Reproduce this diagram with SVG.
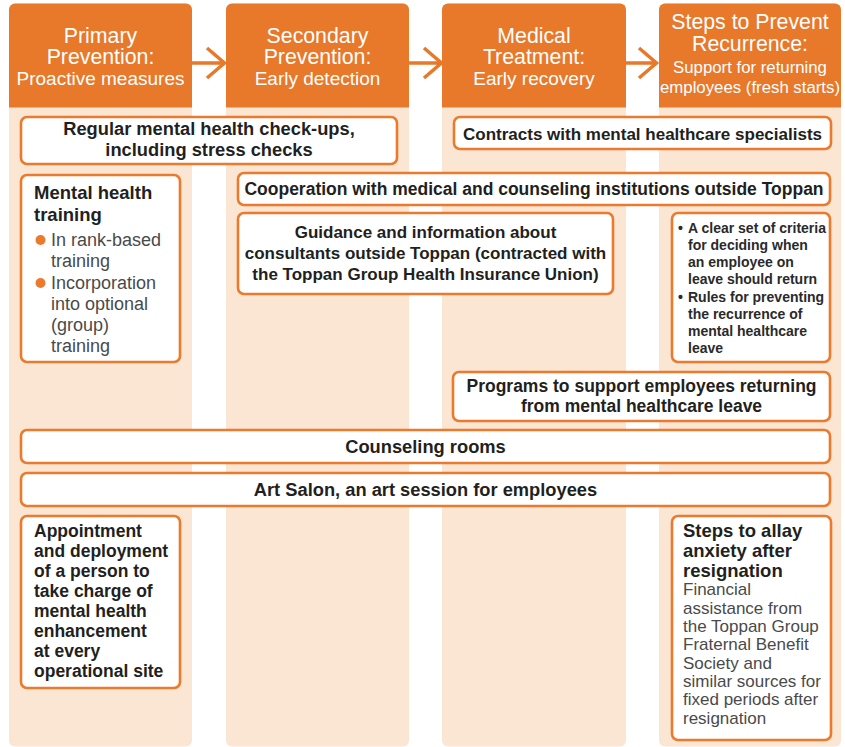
<svg xmlns="http://www.w3.org/2000/svg" width="845" height="747" viewBox="0 0 845 747">
<style>
.col{fill:#FBE5D3}
.hdr{fill:#E8782A}
.ht{fill:#fff;font-family:"Liberation Sans",Arial,sans-serif;text-anchor:middle}
.h1{font-size:21.3px}
.h2{font-size:19px}
.h3{font-size:16.8px}
.box{fill:#fff;stroke:#EC7A2D;stroke-width:2.6}
.bt{fill:#231F20;font-family:"Liberation Sans",Arial,sans-serif;font-weight:bold;font-size:17px}
.c{text-anchor:middle}
.tt{font-size:18.5px}
.big{font-size:18.3px}
.mid{font-size:17.5px}
.rt{fill:#4A4A4A;font-family:"Liberation Sans",Arial,sans-serif;font-size:17px}
.rb{font-size:18px}
.sm{fill:#2A2A2A;font-family:"Liberation Sans",Arial,sans-serif;font-weight:bold;font-size:14px}
.arr{fill:none;stroke:#E8782A;stroke-width:3.5}
</style>
<g id="columns">
<g id="col1">
<rect class="col" x="9" y="3.5" width="183" height="743" rx="6"/>
<path class="hdr" d="M9,107.5 V9.5 a6,6 0 0 1 6,-6 H186 a6,6 0 0 1 6,6 V107.5 Z"/>
<text class="ht h1" x="100.5" y="42.5">Primary</text>
<text class="ht h1" x="100.5" y="64">Prevention:</text>
<text class="ht h2" x="100.5" y="85">Proactive measures</text>
</g>
<g id="col2">
<rect class="col" x="226" y="3.5" width="183" height="743" rx="6"/>
<path class="hdr" d="M226,107.5 V9.5 a6,6 0 0 1 6,-6 H403 a6,6 0 0 1 6,6 V107.5 Z"/>
<text class="ht h1" x="317.5" y="42.5">Secondary</text>
<text class="ht h1" x="317.5" y="64">Prevention:</text>
<text class="ht h2" x="317.5" y="85">Early detection</text>
</g>
<g id="col3">
<rect class="col" x="442" y="3.5" width="184" height="743" rx="6"/>
<path class="hdr" d="M442,107.5 V9.5 a6,6 0 0 1 6,-6 H620 a6,6 0 0 1 6,6 V107.5 Z"/>
<text class="ht h1" x="534" y="42.5">Medical</text>
<text class="ht h1" x="534" y="64">Treatment:</text>
<text class="ht h2" x="534" y="85">Early recovery</text>
</g>
<g id="col4">
<rect class="col" x="659" y="3.5" width="182" height="743" rx="6"/>
<path class="hdr" d="M659,107.5 V9.5 a6,6 0 0 1 6,-6 H835 a6,6 0 0 1 6,6 V107.5 Z"/>
<text class="ht h1" x="750" y="29">Steps to Prevent</text>
<text class="ht h1" x="750" y="51">Recurrence:</text>
<text class="ht h3" x="750" y="73">Support for returning</text>
<text class="ht h3" x="750" y="93">employees (fresh starts)</text>
</g>
</g>
<g id="connectors">
<path class="arr" d="M192,63 H224 M207,48 L224.5,63 L207,78"/>
<path class="arr" d="M409,63 H440 M424,48 L441.5,63 L424,78"/>
<path class="arr" d="M626,63 H656 M639,48 L656.5,63 L639,78"/>
</g>
<g id="checkups">
<rect class="box" x="21" y="117" width="376" height="47" rx="6"/>
<text class="bt c big" x="209" y="135">Regular mental health check-ups,</text>
<text class="bt c big" x="209" y="155.5">including stress checks</text>
</g>
<g id="contracts">
<rect class="box" x="454" y="117" width="377" height="32" rx="6"/>
<text class="bt c" x="642.5" y="139.5">Contracts with mental healthcare specialists</text>
</g>
<g id="training">
<rect class="box" x="21" y="175" width="159" height="187" rx="6"/>
<text class="bt tt" x="34" y="199">Mental health</text>
<text class="bt tt" x="34" y="221">training</text>
<circle cx="40.5" cy="240" r="5" fill="#EC7A2D"/>
<circle cx="40.5" cy="283" r="5" fill="#EC7A2D"/>
<text class="rt rb" x="51" y="246">In rank-based</text>
<text class="rt rb" x="51" y="267">training</text>
<text class="rt rb" x="51" y="289">Incorporation</text>
<text class="rt rb" x="51" y="310">into optional</text>
<text class="rt rb" x="51" y="331">(group)</text>
<text class="rt rb" x="51" y="352">training</text>
</g>
<g id="cooperation">
<rect class="box" x="238" y="173" width="592" height="32" rx="6"/>
<text class="bt c mid" x="534" y="194.5">Cooperation with medical and counseling institutions outside Toppan</text>
</g>
<g id="guidance">
<rect class="box" x="238" y="213" width="375" height="81" rx="6"/>
<text class="bt c" x="425.5" y="238">Guidance and information about</text>
<text class="bt c" x="425.5" y="259">consultants outside Toppan (contracted with</text>
<text class="bt c" x="425.5" y="280">the Toppan Group Health Insurance Union)</text>
</g>
<g id="criteria">
<rect class="box" x="672" y="213" width="158" height="149" rx="6"/>
<text class="sm" x="678" y="233">•</text>
<text class="sm" x="688" y="233">A clear set of criteria</text>
<text class="sm" x="688" y="250">for deciding when</text>
<text class="sm" x="688" y="267">an employee on</text>
<text class="sm" x="688" y="284">leave should return</text>
<text class="sm" x="678" y="302">•</text>
<text class="sm" x="688" y="302">Rules for preventing</text>
<text class="sm" x="688" y="319">the recurrence of</text>
<text class="sm" x="688" y="336">mental healthcare</text>
<text class="sm" x="688" y="353">leave</text>
</g>
<g id="programs">
<rect class="box" x="453" y="372" width="377" height="49" rx="6"/>
<text class="bt c mid" x="641.5" y="392">Programs to support employees returning</text>
<text class="bt c mid" x="641.5" y="412">from mental healthcare leave</text>
</g>
<g id="counseling">
<rect class="box" x="21" y="430" width="809" height="33" rx="6"/>
<text class="bt c big" x="425.5" y="452.5">Counseling rooms</text>
</g>
<g id="artsalon">
<rect class="box" x="21" y="473" width="809" height="33" rx="6"/>
<text class="bt c big" x="425.5" y="495.5">Art Salon, an art session for employees</text>
</g>
<g id="appointment">
<rect class="box" x="21" y="516" width="159" height="172" rx="6"/>
<text class="bt" style="font-size:17.5px" x="34" y="537">Appointment</text>
<text class="bt" style="font-size:17.5px" x="34" y="557">and deployment</text>
<text class="bt" style="font-size:17.5px" x="34" y="577">of a person to</text>
<text class="bt" style="font-size:17.5px" x="34" y="597">take charge of</text>
<text class="bt" style="font-size:17.5px" x="34" y="617">mental health</text>
<text class="bt" style="font-size:17.5px" x="34" y="637">enhancement</text>
<text class="bt" style="font-size:17.5px" x="34" y="657">at every</text>
<text class="bt" style="font-size:17.5px" x="34" y="677">operational site</text>
</g>
<g id="allay">
<rect class="box" x="672" y="516" width="159" height="224" rx="6"/>
<text class="bt tt" x="683" y="537">Steps to allay</text>
<text class="bt tt" x="683" y="557">anxiety after</text>
<text class="bt tt" x="683" y="577">resignation</text>
<text class="rt" x="683" y="595">Financial</text>
<text class="rt" x="683" y="613.5">assistance from</text>
<text class="rt" x="683" y="632">the Toppan Group</text>
<text class="rt" x="683" y="650">Fraternal Benefit</text>
<text class="rt" x="683" y="668.5">Society and</text>
<text class="rt" x="683" y="687">similar sources for</text>
<text class="rt" x="683" y="705">fixed periods after</text>
<text class="rt" x="683" y="723.5">resignation</text>
</g>
</svg>
